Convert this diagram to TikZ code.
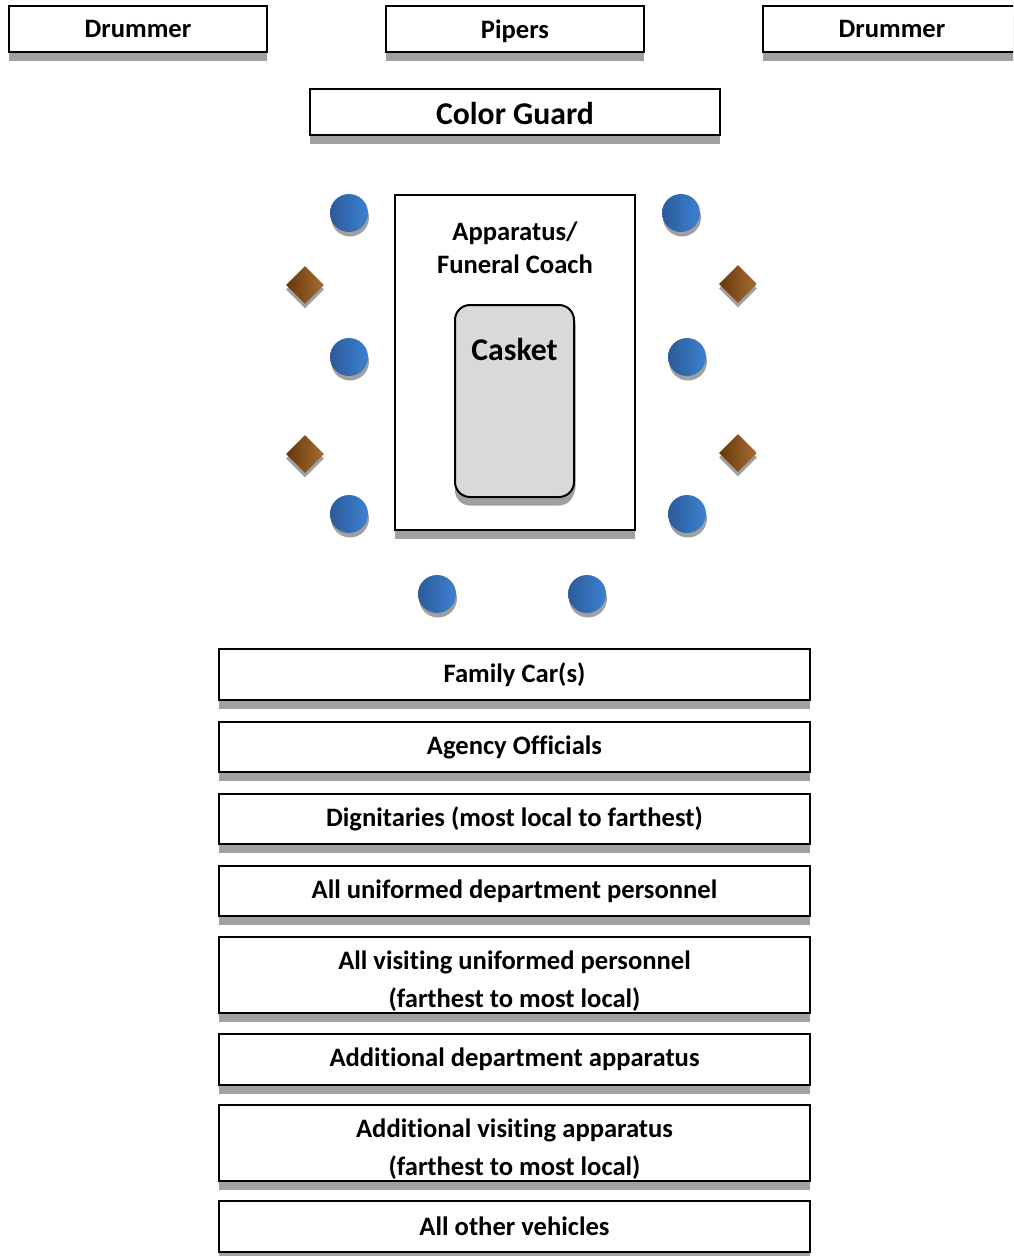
\documentclass[tikz,border=0pt]{standalone}
\usepackage{fontspec}
\setmainfont{Carlito}[Ligatures={NoCommon,NoRare}]
\usetikzlibrary{shadows,shapes.geometric}
\definecolor{shgray}{HTML}{A0A0A0}
\definecolor{blueL}{HTML}{2C5B99}
\definecolor{blueR}{HTML}{3D81D2}
\definecolor{brownL}{HTML}{683809}
\definecolor{brownR}{HTML}{A56D33}
\definecolor{casketgray}{HTML}{D9D9D9}
\newcommand{\topstrut}{\rule{0pt}{31pt}}
\tikzset{
  box/.style={draw=black, line width=2pt, fill=white, inner sep=0pt, align=center,
    font=\fontsize{26.6}{37.5}\selectfont\bfseries,
    drop shadow={shadow xshift=0pt, shadow yshift=-8.5pt, fill=shgray, opacity=1}},
  bigtxt/.style={font=\fontsize{31.7}{38}\selectfont\bfseries, inner sep=0pt},
  smalltxt/.style={font=\fontsize{26.6}{33}\selectfont\bfseries, inner sep=0pt, align=center},
  guard/.style={circle, minimum size=38pt, inner sep=0pt, draw=none,
    left color=blueL, right color=blueR, shading angle=90,
    drop shadow={shadow xshift=1pt, shadow yshift=-4.5pt, fill=shgray, opacity=1}},
  flag/.style={diamond, aspect=1, minimum width=38pt, minimum height=38pt, inner sep=0pt, draw=none,
    left color=brownL, right color=brownR,
    drop shadow={shadow xshift=0pt, shadow yshift=-4.5pt, fill=shgray, opacity=1}},
}
\begin{document}
\begin{tikzpicture}[x=1pt,y=-1pt]
\clip (0,0) rectangle (1013,1256);
\fill[white] (0,0) rectangle (1013,1256);
% top row
\node[box, minimum width=258pt, minimum height=46pt] (drumL) at (138,29) {Drummer};
\node[box, minimum width=258pt, minimum height=46pt, text depth=0pt] (pipers) at (515,29) {Pipers};
\node[box, minimum width=258pt, minimum height=46pt] (drumR) at (892,29) {Drummer};
\node[box, minimum width=410pt, minimum height=46pt, font=\fontsize{31.7}{38}\selectfont\bfseries,
  text height=24.6pt, text depth=0pt] (guardbox) at (515,112) {Color Guard};
% coach
\node[box, minimum width=240pt, minimum height=335pt] (coach) at (515,362.5) {};
\node[smalltxt] (coachtxt) at (515,248) {Apparatus/\\Funeral Coach};
\node[box, fill=casketgray, rounded corners=15pt, minimum width=119pt, minimum height=192pt,
  drop shadow={shadow xshift=1.5pt, shadow yshift=-5pt, fill=shgray, opacity=1}] (casket) at (514.5,401) {};
\node[bigtxt] (caskettxt) at (514.5,349) {Casket};
% guards
\node[guard] (g1) at (349,213) {};
\node[guard] (g2) at (349,357) {};
\node[guard] (g3) at (349,514) {};
\node[guard] (g4) at (681,213) {};
\node[guard] (g5) at (687,357) {};
\node[guard] (g6) at (687,514) {};
\node[guard] (g7) at (437,594) {};
\node[guard] (g8) at (587,594) {};
% flags
\node[flag] (f1) at (305,285) {};
\node[flag] (f2) at (305,454) {};
\node[flag] (f3) at (738,284) {};
\node[flag] (f4) at (738,453) {};
% procession
\node[box, minimum width=591pt, minimum height=51pt] (family) at (514.5,674.5) {Family Car(s)};
\node[box, minimum width=591pt, minimum height=50pt] (agency) at (514.5,747) {Agency Officials};
\node[box, minimum width=591pt, minimum height=50pt] (dign) at (514.5,819) {Dignitaries (most local to farthest)};
\node[box, minimum width=591pt, minimum height=50pt] (unif) at (514.5,891) {All uniformed department personnel};
\node[box, minimum width=591pt, minimum height=76pt] (visit) at (514.5,975) {\topstrut All visiting uniformed personnel\\(farthest to most local)};
\node[box, minimum width=591pt, minimum height=51pt] (adddept) at (514.5,1059.5) {Additional department apparatus};
\node[box, minimum width=591pt, minimum height=76pt] (addvisit) at (514.5,1143) {\topstrut Additional visiting apparatus\\(farthest to most local)};
\node[box, minimum width=591pt, minimum height=51pt] (other) at (514.5,1226.5) {All other vehicles};
\end{tikzpicture}
\end{document}
